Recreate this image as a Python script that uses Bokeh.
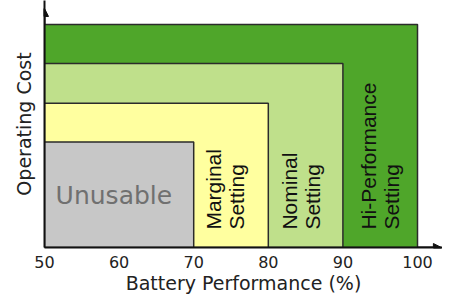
from bokeh.plotting import figure
from bokeh.models import FixedTicker, Arrow, NormalHead, ColumnDataSource, Range1d
from bokeh.embed import file_html
from bokeh.resources import INLINE
from bokeh.core.properties import value
import math

# Data
zone_names = ["Hi-Performance", "Nominal", "Marginal", "Unusable"]
zone_start = [50, 50, 50, 50]
zone_end = [100, 90, 80, 70]
zone_cost = [5.6, 4.62, 3.62, 2.65]
zone_colors = ["#4fa62a", "#bfe08b", "#ffff9f", "#c7c7c7"]
x_ticks = [50, 60, 70, 80, 90, 100]

label_line1 = ["Marginal", "Nominal", "Hi-Performance"]
label_line2 = ["Setting", "Setting", "Setting"]
label_x1 = [72.6, 82.8, 93.4]
label_x2 = [75.7, 85.9, 96.5]
label_y = [0.45, 0.45, 0.45]

p = figure(width=442, height=296, output_backend="svg", toolbar_location=None,
           x_range=Range1d(50, 103.35), y_range=Range1d(0, 6.2),
           min_border_left=44, min_border_right=0, min_border_top=0, min_border_bottom=40)
p.outline_line_color = None
p.grid.visible = False
p.background_fill_color = "white"
p.border_fill_color = "white"

src = ColumnDataSource(dict(left=zone_start, right=zone_end, top=zone_cost,
                            bottom=[0] * len(zone_cost), color=zone_colors))
p.quad(left="left", right="right", top="top", bottom="bottom", source=src,
       fill_color="color", line_color="#2b2b2b", line_width=1.5)

p.text(x=[59.3], y=[1.3], text=["Unusable"], text_align="center", text_baseline="middle",
       text_font=value("DejaVu Sans"), text_font_size="25px", text_color="#707070")

p.text(x=label_x1, y=label_y, text=label_line1, angle=math.pi / 2, text_align="left",
       text_baseline="middle", text_font=value("Liberation Sans"), text_font_size="21px",
       text_color="#111111")
p.text(x=label_x2, y=label_y, text=label_line2, angle=math.pi / 2, text_align="left",
       text_baseline="middle", text_font=value("Liberation Sans"), text_font_size="21px",
       text_color="#111111")

# x axis
xa = p.xaxis[0]
xa.ticker = FixedTicker(ticks=x_ticks)
xa.major_tick_line_color = None
xa.minor_tick_line_color = None
xa.axis_line_color = "#111111"
xa.axis_line_width = 2
xa.major_label_text_font = "DejaVu Sans"
xa.major_label_text_font_size = "16px"
xa.major_label_text_color = "#222222"
xa.major_label_standoff = 2
xa.axis_label = "Battery Performance (%)"
xa.axis_label_text_font = "DejaVu Sans"
xa.axis_label_text_font_style = "normal"
xa.axis_label_text_font_size = "19px"
xa.axis_label_text_color = "#222222"
xa.axis_label_standoff = 1

ya = p.yaxis[0]
ya.ticker = FixedTicker(ticks=[])
ya.major_tick_line_color = None
ya.minor_tick_line_color = None
ya.axis_line_color = "#111111"
ya.axis_line_width = 2
ya.axis_label = "Operating Cost"
ya.axis_label_text_font = "DejaVu Sans"
ya.axis_label_text_font_style = "normal"
ya.axis_label_text_font_size = "19px"
ya.axis_label_text_color = "#222222"
ya.axis_label_standoff = 10

p.add_layout(Arrow(x_start=100, y_start=0, x_end=103.2, y_end=0, line_color="#111111",
                   line_width=2, end=NormalHead(size=8, fill_color="#111111", line_color="#111111")))
p.add_layout(Arrow(x_start=50, y_start=5.6, x_end=50, y_end=6.0, line_color="#111111",
                   line_width=2, end=NormalHead(size=8, fill_color="#111111", line_color="#111111")))

open("out.html", "w").write(file_html(p, INLINE))
